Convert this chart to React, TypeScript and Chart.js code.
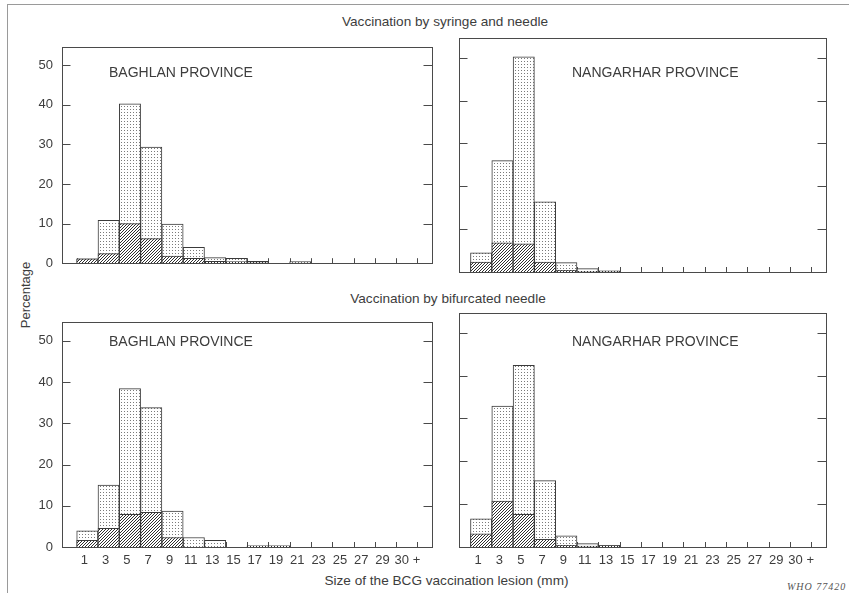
import React, { useEffect, useRef } from 'react';
import { Chart, registerables } from 'chart.js';

Chart.register(...registerables);

// ---- Data -----------------------------------------------------------------
const binLabels = ['1', '3', '5', '7', '9', '11', '13', '15', '17', '19', '21', '23', '25', '27', '29', '\u00a0\u00a030 +'];
const yTickValues = [0, 10, 20, 30, 40, 50];

// Vaccination by syringe and needle
const baghlanSyringeTotal = [1.1, 10.8, 40.2, 29.3, 9.9, 4.0, 1.4, 1.2, 0.5, 0, 0.4, 0, 0, 0, 0, 0];
const baghlanSyringeHatched = [1.1, 2.4, 10.0, 6.2, 1.8, 1.2, 0.5, 0.4, 0.3, 0, 0.1, 0, 0, 0, 0, 0];
const nangarharSyringeTotal = [4.5, 26.0, 50.2, 16.4, 2.2, 0.8, 0.3, 0, 0, 0, 0, 0, 0, 0, 0, 0];
const nangarharSyringeHatched = [2.3, 6.8, 6.6, 2.3, 0.4, 0.15, 0.2, 0, 0, 0, 0, 0, 0, 0, 0, 0];

// Vaccination by bifurcated needle
const baghlanBifurcatedTotal = [3.9, 15.0, 38.4, 33.8, 8.7, 2.3, 1.6, 0, 0.3, 0.3, 0, 0, 0, 0, 0, 0];
const baghlanBifurcatedHatched = [1.6, 4.5, 7.9, 8.4, 2.3, 0, 0, 0, 0.3, 0.3, 0, 0, 0, 0, 0, 0];
const nangarharBifurcatedTotal = [6.6, 32.9, 42.4, 15.5, 2.6, 0.8, 0.4, 0, 0, 0, 0, 0, 0, 0, 0, 0];
const nangarharBifurcatedHatched = [3.1, 10.7, 7.6, 1.8, 0.4, 0.2, 0.3, 0, 0, 0, 0, 0, 0, 0, 0, 0];

// ---- Style ----------------------------------------------------------------
const FONT = "'Liberation Sans', Arial, Helvetica, sans-serif";
const TEXT = '#3d3d3d';
const FRAME = '#4a4a4a';
const BAR_LINE = '#3a3a3a';
const Y_MAX = 54.6;

function makeDots(): CanvasPattern | string {
  const c = document.createElement('canvas');
  c.width = 3;
  c.height = 3;
  const g = c.getContext('2d');
  if (!g) return '#eee';
  g.fillStyle = '#ffffff';
  g.fillRect(0, 0, 3, 3);
  g.fillStyle = '#7a7a7a';
  g.fillRect(1, 1, 1, 1);
  return g.createPattern(c, 'repeat') || '#eee';
}

function makeHatch(): CanvasPattern | string {
  const c = document.createElement('canvas');
  c.width = 3;
  c.height = 3;
  const g = c.getContext('2d');
  if (!g) return '#999';
  g.fillStyle = '#ffffff';
  g.fillRect(0, 0, 3, 3);
  g.fillStyle = '#2e2e2e';
  g.fillRect(0, 2, 1, 1);
  g.fillRect(1, 1, 1, 1);
  g.fillRect(2, 0, 1, 1);
  return g.createPattern(c, 'repeat') || '#999';
}

const framePlugin = {
  id: 'histFrame',
  beforeDatasetsDraw(chart: any) {
    const { ctx, chartArea: a, scales } = chart;
    const xs = scales.x;
    ctx.save();
    ctx.strokeStyle = FRAME;
    ctx.lineWidth = 1;
    ctx.beginPath();
    for (let k = 0; k <= binLabels.length; k++) {
      const px = Math.round(xs.getPixelForValue(k - 0.5)) + 0.5;
      ctx.moveTo(px, a.bottom);
      ctx.lineTo(px, a.bottom - 5);
    }
    ctx.stroke();
    ctx.restore();
  },
  afterDatasetsDraw(chart: any) {
    const { ctx, chartArea: a, scales } = chart;
    const ys = scales.y;
    ctx.save();
    ctx.strokeStyle = FRAME;
    ctx.lineWidth = 1;
    const l = Math.round(a.left) + 0.5;
    const t = Math.round(a.top) + 0.5;
    const r = Math.round(a.right) - 0.5;
    const b = Math.round(a.bottom) + 0.5;
    ctx.strokeRect(l, t, r - l, b - t);
    ctx.beginPath();
    for (const v of yTickValues) {
      if (v === 0) continue;
      const py = Math.round(ys.getPixelForValue(v)) + 0.5;
      ctx.moveTo(l, py);
      ctx.lineTo(l + 8, py);
      ctx.moveTo(r, py);
      ctx.lineTo(r - 9, py);
    }
    ctx.stroke();
    ctx.restore();
  },
};

type Rect = { left: number; top: number; width: number; height: number };
type Frame = { l: number; t: number; r: number; b: number };

type PanelProps = {
  total: number[];
  hatched: number[];
  rect: Rect;
  frame: Frame;
  xMin: number;
  xMax: number;
  showX: boolean;
  showY: boolean;
};

function Panel({ total, hatched, rect, frame, xMin, xMax, showX, showY }: PanelProps) {
  const ref = useRef<HTMLCanvasElement | null>(null);
  useEffect(() => {
    const canvas = ref.current;
    if (!canvas) return;
    const dots = makeDots();
    const hatch = makeHatch();
    const yAxisWidth = frame.l - rect.left;
    const xAxisHeight = rect.top + rect.height - frame.b;
    const chart = new Chart(canvas, {
      type: 'bar',
      data: {
        datasets: [
          {
            data: hatched.map((v, i) => ({ x: i, y: v })),
            backgroundColor: hatch as any,
            borderColor: BAR_LINE,
            borderWidth: 1,
            barPercentage: 1,
            categoryPercentage: 1,
          },
          {
            data: total.map((v, i) => ({ x: i, y: v })),
            backgroundColor: dots as any,
            borderColor: BAR_LINE,
            borderWidth: 1,
            barPercentage: 1,
            categoryPercentage: 1,
          },
        ],
      },
      options: {
        animation: false,
        responsive: false,
        maintainAspectRatio: false,
        devicePixelRatio: 1,
        events: [],
        layout: {
          padding: {
            left: 0,
            bottom: 0,
            top: frame.t - rect.top,
            right: rect.left + rect.width - frame.r,
          },
        },
        plugins: {
          legend: { display: false },
          tooltip: { enabled: false },
          title: { display: false },
        },
        scales: {
          x: {
            type: 'linear',
            min: xMin,
            max: xMax,
            offset: false,
            stacked: true,
            grid: { display: false, drawTicks: false },
            border: { display: false },
            ticks: {
              display: showX,
              padding: 6,
              labelOffset: -3,
              maxRotation: 0,
              autoSkip: false,
              color: TEXT,
              font: { family: FONT, size: 13 },
              callback: (v: any) => binLabels[v as number] ?? '',
            },
            afterBuildTicks: (s: any) => {
              s.ticks = binLabels.map((_, i) => ({ value: i }));
            },
            afterFit: (s: any) => {
              s.height = xAxisHeight;
            },
          },
          y: {
            type: 'linear',
            min: 0,
            max: Y_MAX,
            stacked: false,
            grid: { display: false, drawTicks: false },
            border: { display: false },
            ticks: {
              display: showY,
              padding: 9,
              color: TEXT,
              font: { family: FONT, size: 13 },
            },
            afterBuildTicks: (s: any) => {
              s.ticks = yTickValues.map((v) => ({ value: v }));
            },
            afterFit: (s: any) => {
              s.width = yAxisWidth;
            },
          },
        },
      } as any,
      plugins: [framePlugin],
    });
    return () => chart.destroy();
  }, []);
  return (
    <canvas
      ref={ref}
      width={rect.width}
      height={rect.height}
      style={{ position: 'absolute', left: rect.left, top: rect.top, width: rect.width, height: rect.height }}
    />
  );
}

const textBase: React.CSSProperties = {
  position: 'absolute',
  fontFamily: FONT,
  color: TEXT,
  whiteSpace: 'nowrap',
};

export default function App() {
  const leftX = { min: -1.19, max: 16.23 };
  const rightX = { min: -1.04, max: 16.24 };
  return (
    <div
      style={{
        position: 'fixed',
        left: 0,
        top: 0,
        width: 849,
        height: 593,
        background: '#ffffff',
        overflow: 'hidden',
      }}
    >
      <div
        style={{
          position: 'absolute',
          left: 7,
          top: 4,
          width: 860,
          height: 600,
          borderTop: '1px solid #9a9a9a',
          borderLeft: '1px solid #9a9a9a',
        }}
      />
      <div style={{ ...textBase, left: 245, top: 15, width: 400, textAlign: 'center', fontSize: 13.6, lineHeight: '13px' }}>
        Vaccination by syringe and needle
      </div>
      <div style={{ ...textBase, left: 248, top: 292, width: 400, textAlign: 'center', fontSize: 13.6, lineHeight: '13px' }}>
        Vaccination by bifurcated needle
      </div>
      <div style={{ ...textBase, left: 246.5, top: 574, width: 400, textAlign: 'center', fontSize: 13.6, lineHeight: '13px' }}>
        Size of the BCG vaccination lesion (mm)
      </div>
      <div
        style={{
          ...textBase,
          left: 25.5 - 50,
          top: 295 - 7,
          width: 100,
          height: 14,
          textAlign: 'center',
          fontSize: 13,
          lineHeight: '14px',
          transform: 'rotate(-90deg)',
        }}
      >
        Percentage
      </div>

      <Panel
        total={baghlanSyringeTotal}
        hatched={baghlanSyringeHatched}
        rect={{ left: 30, top: 30, width: 410, height: 250 }}
        frame={{ l: 62, t: 38, r: 433, b: 272 }}
        xMin={leftX.min}
        xMax={leftX.max}
        showX={false}
        showY={true}
      />
      <Panel
        total={nangarharSyringeTotal}
        hatched={nangarharSyringeHatched}
        rect={{ left: 445, top: 30, width: 395, height: 250 }}
        frame={{ l: 459, t: 38, r: 827, b: 272 }}
        xMin={rightX.min}
        xMax={rightX.max}
        showX={false}
        showY={false}
      />
      <Panel
        total={baghlanBifurcatedTotal}
        hatched={baghlanBifurcatedHatched}
        rect={{ left: 30, top: 305, width: 410, height: 265 }}
        frame={{ l: 62, t: 313, r: 433, b: 547 }}
        xMin={leftX.min}
        xMax={leftX.max}
        showX={true}
        showY={true}
      />
      <Panel
        total={nangarharBifurcatedTotal}
        hatched={nangarharBifurcatedHatched}
        rect={{ left: 445, top: 305, width: 395, height: 265 }}
        frame={{ l: 459, t: 313, r: 827, b: 547 }}
        xMin={rightX.min}
        xMax={rightX.max}
        showX={true}
        showY={false}
      />

      <div style={{ ...textBase, left: 109, top: 65, fontSize: 14, lineHeight: '14px' }}>BAGHLAN PROVINCE</div>
      <div style={{ ...textBase, left: 572, top: 65, fontSize: 14, lineHeight: '14px' }}>NANGARHAR PROVINCE</div>
      <div style={{ ...textBase, left: 109, top: 334, fontSize: 14, lineHeight: '14px' }}>BAGHLAN PROVINCE</div>
      <div style={{ ...textBase, left: 572, top: 334, fontSize: 14, lineHeight: '14px' }}>NANGARHAR PROVINCE</div>

      <div
        style={{
          ...textBase,
          left: 787,
          top: 582,
          fontFamily: "'Liberation Serif', 'Times New Roman', serif",
          fontStyle: 'italic',
          fontSize: 10,
          lineHeight: '10px',
          letterSpacing: 1,
          color: '#555',
        }}
      >
        WHO 77420
      </div>
    </div>
  );
}
